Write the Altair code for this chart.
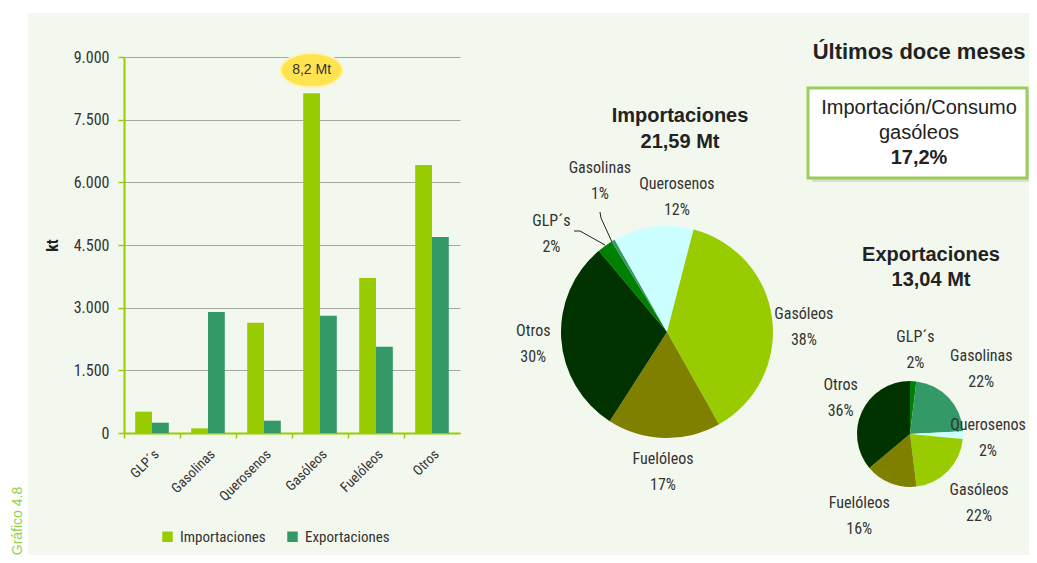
import math
import altair as alt
import pandas as pd

# ---------------- data ----------------
products = ["GLP´s", "Gasolinas", "Querosenos", "Gasóleos", "Fuelóleos", "Otros"]
imports_kt = [510, 112, 2636, 8132, 3712, 6412]
exports_kt = [247, 2899, 295, 2804, 2063, 4691]
series = ["Importaciones", "Exportaciones"]
series_colors = ["#99CC00", "#339966"]
pie_colors = ["#008000", "#339966", "#CCFFFF", "#99CC00", "#808000", "#003300"]
y_ticks = [0, 1500, 3000, 4500, 6000, 7500, 9000]
import_title = ["Importaciones", "21,59 Mt"]
export_title = ["Exportaciones", "13,04 Mt"]
main_title = "Últimos doce meses"
callout_label = "8,2 Mt"
ratio_lines = ["Importación/Consumo", "gasóleos"]
ratio_value = "17,2%"
figure_tag = "Gráfico 4.8"

BG = "#F3F8EE"
COND = "'Liberation Sans Narrow', 'Roboto Condensed', Roboto, sans-serif"
SANS = "'Liberation Sans', Arial, sans-serif"
TXT = "#333333"

bar_df = pd.DataFrame(
    [{"product": p, "series": s, "value": v}
     for s, vals in zip(series, [imports_kt, exports_kt])
     for p, v in zip(products, vals)]
)


def pie_df(vals):
    tot = sum(vals)
    return pd.DataFrame({
        "product": products,
        "value": vals,
        "idx": list(range(len(products))),
        "label": [f"{p}\n{round(100 * v / tot)}%" for p, v in zip(products, vals)],
    })


one = pd.DataFrame({"k": [0]})

# ---------------- bar chart ----------------
bars = alt.Chart(bar_df).mark_bar().encode(
    x=alt.X("product:N", sort=products,
            scale=alt.Scale(paddingInner=0, paddingOuter=0),
            axis=alt.Axis(title=None, labelAngle=-45, bandPosition=0,
                          labelFont=COND, labelFontSize=14, labelColor=TXT,
                          domainColor="#99CC00", domainWidth=2,
                          tickColor="#99CC00", tickSize=5, tickWidth=1.5,
                          labelPadding=9, grid=False)),
    xOffset=alt.XOffset("series:N", sort=series,
                        scale=alt.Scale(domain=series, paddingInner=0, paddingOuter=0.667)),
    y=alt.Y("value:Q", scale=alt.Scale(domain=[0, 9000], nice=False),
            axis=alt.Axis(title="kt", values=y_ticks,
                          labelExpr="replace(format(datum.value, ','), ',', '.')",
                          labelFont=COND, labelFontSize=16, labelColor=TXT, labelPadding=9,
                          domainColor="#99CC00", domainWidth=2,
                          tickColor="#99CC00", tickSize=6, tickWidth=1.5,
                          grid=True, gridColor="#A6A6A6", gridWidth=1,
                          titleFont=COND, titleFontSize=16, titleFontWeight="bold",
                          titleColor="#222222", titlePadding=13)),
    color=alt.Color("series:N", sort=series,
                    scale=alt.Scale(domain=series, range=series_colors),
                    legend=alt.Legend(title=None, orient="none", legendX=36, legendY=472,
                                      direction="horizontal", symbolType="square",
                                      symbolSize=110, symbolStrokeWidth=0,
                                      labelFont=COND, labelFontSize=15, labelColor=TXT,
                                      columnPadding=19, labelOffset=5)),
)

ELLIPSE = "M -1 0 A 1 0.55 0 1 0 1 0 A 1 0.55 0 1 0 -1 0 Z"
call_df = pd.DataFrame({"product": [products[3]], "series": [series[0]],
                        "value": [imports_kt[3]], "label": [callout_label]})
call_base = alt.Chart(call_df).encode(
    x=alt.X("product:N", sort=products),
    xOffset=alt.XOffset("series:N", sort=series),
    y=alt.Y("value:Q"),
)
call_pt = call_base.mark_point(shape=ELLIPSE, size=3844, filled=True, fill="#FFE34F",
                               stroke="#FFF3B0", strokeWidth=2, opacity=1, yOffset=-23)
call_tx = call_base.mark_text(font=SANS, fontSize=14, color=TXT, yOffset=-23).encode(text="label:N")


# ---------------- pies ----------------
def pie_layer(df, cx, cy, r, start_deg, label_specs):
    a0 = math.radians(start_deg)
    base = alt.Chart(df).encode(
        theta=alt.Theta("value:Q", stack=True,
                        scale=alt.Scale(range=[a0, a0 + 2 * math.pi])),
        order=alt.Order("idx:Q"),
        x=alt.value(cx), y=alt.value(cy),
    )
    arc = base.mark_arc(radius=r).encode(
        color=alt.Color("product:N", scale=alt.Scale(domain=products, range=pie_colors),
                        legend=None))
    layers = [arc]
    for name, lr, dx, dy in label_specs:
        layers.append(
            base.transform_calculate(
                shown=f"datum.product == '{name}' ? datum.label : ''"
            ).mark_text(radius=lr, dx=dx, dy=dy, font=COND, fontSize=16,
                        lineBreak="\n", lineHeight=26, color=TXT, baseline="middle")
            .encode(text="shown:N"))
    return alt.layer(*layers)


imp_pie = pie_layer(pie_df(imports_kt), 543, 275, 106, 320, [
    ("GLP´s", 138, -35, 1),
    ("Gasolinas", 138, 3, -45),
    ("Querosenos", 138, 28, -11),
    ("Gasóleos", 138, 0, 0),
    ("Fuelóleos", 138, 0, -11),
    ("Otros", 138, 4, -10),
])
exp_pie = pie_layer(pie_df(exports_kt), 786, 377, 53, 0, [
    ("GLP´s", 92, 0, -5),
    ("Gasolinas", 92, 4, -15),
    ("Querosenos", 92, -14, -11),
    ("Gasóleos", 92, 3, -8),
    ("Fuelóleos", 92, -17, -17),
    ("Otros", 92, 14, -10),
])


# ---------------- decorations & texts ----------------
def rect(x, x2, y, y2, **kw):
    return alt.Chart(one).mark_rect(**kw).encode(
        x=alt.value(x), x2=alt.value(x2), y=alt.value(y), y2=alt.value(y2))


def rule(x, y, x2, y2):
    return alt.Chart(one).mark_rule(color="#222222", strokeWidth=1).encode(
        x=alt.value(x), y=alt.value(y), x2=alt.value(x2), y2=alt.value(y2))


def label(x, y, text, size, weight="normal", font=SANS, color="#222222", angle=0):
    return alt.Chart(one).mark_text(text=text, fontSize=size, fontWeight=weight, font=font,
                                    color=color, angle=angle, align="center",
                                    baseline="middle").encode(x=alt.value(x), y=alt.value(y))


leaders = [
    rule(450, 174, 456, 174), rule(456, 174, 481, 188),
    rule(476, 155, 477, 161), rule(477, 161, 488, 185),
]

deco = [
    rect(-116, -96, -49, 498, color="white"),
    rect(-96, 910, -49, -44, color="white"),
    label(-106, 464, figure_tag, 14, color="#92D050", angle=270),
    label(795, -5, main_title, 22, "bold"),
    label(556, 59, import_title[0], 20, "bold"),
    label(556, 85, import_title[1], 20, "bold"),
    label(807, 198, export_title[0], 20, "bold"),
    label(807, 223, export_title[1], 20, "bold"),
    rect(688, 907, 35, 125, color="#000000", opacity=0.10),
    rect(684, 903, 31, 121, fill="white", stroke="#9ACD5A", strokeWidth=3),
    label(795, 51, ratio_lines[0], 20),
    label(795, 76, ratio_lines[1], 20),
    label(795, 101, ratio_value, 20, "bold"),
]

chart = alt.layer(
    deco[0], deco[1], bars, call_pt, call_tx, imp_pie, exp_pie, *leaders, *deco[2:]
).resolve_scale(
    theta="independent", color="independent"
).properties(
    width=336, height=376,
    autosize=alt.AutoSizeParams(type="none"),
    padding={"left": 116, "top": 49, "right": 569, "bottom": 122},
).configure(
    background=BG
).configure_view(
    stroke=None
)

chart.save("out.html", embed_options={"renderer": "svg", "actions": False})
